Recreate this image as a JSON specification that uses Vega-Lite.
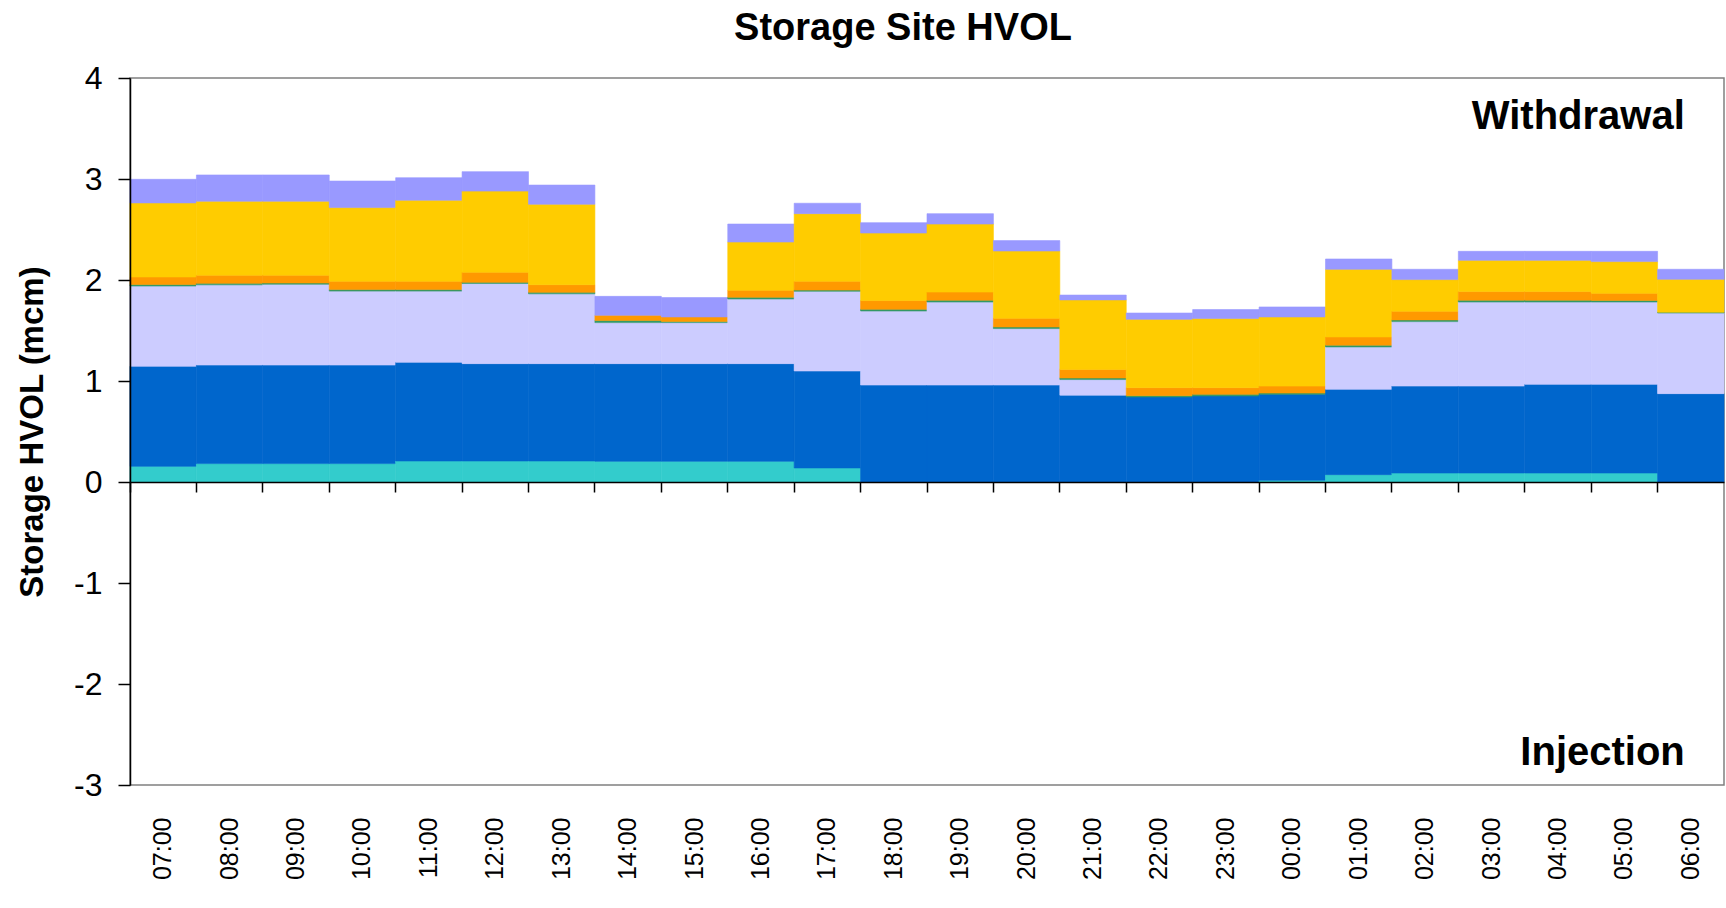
{
  "$schema": "https://vega.github.io/schema/vega-lite/v6.json",
  "width": 1594,
  "height": 707,
  "autosize": {"type": "none"},
  "padding": {"left": 130, "top": 78, "right": 2, "bottom": 123},
  "background": "white",
  "title": {
    "text": "Storage Site HVOL",
    "font": "Liberation Sans",
    "fontSize": 38,
    "fontWeight": "bold",
    "color": "black",
    "anchor": "middle",
    "baseline": "alphabetic",
    "dx": -24,
    "dy": 16,
    "offset": 0
  },
  "config": {
    "view": {"stroke": "#808080", "strokeWidth": 1.5},
    "font": "Liberation Sans"
  },
  "datasets": {
    "hvol": [
      {"hour": "07:00", "series": "Series 1", "value": 0.155},
      {"hour": "07:00", "series": "Series 2", "value": 0.991},
      {"hour": "07:00", "series": "Series 3", "value": 0.794},
      {"hour": "07:00", "series": "Series 4", "value": 0.015},
      {"hour": "07:00", "series": "Series 5", "value": 0.075},
      {"hour": "07:00", "series": "Series 6", "value": 0.733},
      {"hour": "07:00", "series": "Series 7", "value": 0.234},
      {"hour": "08:00", "series": "Series 1", "value": 0.182},
      {"hour": "08:00", "series": "Series 2", "value": 0.976},
      {"hour": "08:00", "series": "Series 3", "value": 0.794},
      {"hour": "08:00", "series": "Series 4", "value": 0.015},
      {"hour": "08:00", "series": "Series 5", "value": 0.080},
      {"hour": "08:00", "series": "Series 6", "value": 0.733},
      {"hour": "08:00", "series": "Series 7", "value": 0.260},
      {"hour": "09:00", "series": "Series 1", "value": 0.182},
      {"hour": "09:00", "series": "Series 2", "value": 0.976},
      {"hour": "09:00", "series": "Series 3", "value": 0.800},
      {"hour": "09:00", "series": "Series 4", "value": 0.012},
      {"hour": "09:00", "series": "Series 5", "value": 0.077},
      {"hour": "09:00", "series": "Series 6", "value": 0.733},
      {"hour": "09:00", "series": "Series 7", "value": 0.260},
      {"hour": "10:00", "series": "Series 1", "value": 0.182},
      {"hour": "10:00", "series": "Series 2", "value": 0.976},
      {"hour": "10:00", "series": "Series 3", "value": 0.732},
      {"hour": "10:00", "series": "Series 4", "value": 0.015},
      {"hour": "10:00", "series": "Series 5", "value": 0.082},
      {"hour": "10:00", "series": "Series 6", "value": 0.730},
      {"hour": "10:00", "series": "Series 7", "value": 0.263},
      {"hour": "11:00", "series": "Series 1", "value": 0.208},
      {"hour": "11:00", "series": "Series 2", "value": 0.977},
      {"hour": "11:00", "series": "Series 3", "value": 0.705},
      {"hour": "11:00", "series": "Series 4", "value": 0.015},
      {"hour": "11:00", "series": "Series 5", "value": 0.082},
      {"hour": "11:00", "series": "Series 6", "value": 0.803},
      {"hour": "11:00", "series": "Series 7", "value": 0.223},
      {"hour": "12:00", "series": "Series 1", "value": 0.208},
      {"hour": "12:00", "series": "Series 2", "value": 0.964},
      {"hour": "12:00", "series": "Series 3", "value": 0.793},
      {"hour": "12:00", "series": "Series 4", "value": 0.012},
      {"hour": "12:00", "series": "Series 5", "value": 0.099},
      {"hour": "12:00", "series": "Series 6", "value": 0.804},
      {"hour": "12:00", "series": "Series 7", "value": 0.193},
      {"hour": "13:00", "series": "Series 1", "value": 0.208},
      {"hour": "13:00", "series": "Series 2", "value": 0.964},
      {"hour": "13:00", "series": "Series 3", "value": 0.691},
      {"hour": "13:00", "series": "Series 4", "value": 0.015},
      {"hour": "13:00", "series": "Series 5", "value": 0.076},
      {"hour": "13:00", "series": "Series 6", "value": 0.796},
      {"hour": "13:00", "series": "Series 7", "value": 0.190},
      {"hour": "14:00", "series": "Series 1", "value": 0.205},
      {"hour": "14:00", "series": "Series 2", "value": 0.967},
      {"hour": "14:00", "series": "Series 3", "value": 0.406},
      {"hour": "14:00", "series": "Series 4", "value": 0.022},
      {"hour": "14:00", "series": "Series 5", "value": 0.050},
      {"hour": "14:00", "series": "Series 6", "value": 0},
      {"hour": "14:00", "series": "Series 7", "value": 0.188},
      {"hour": "15:00", "series": "Series 1", "value": 0.205},
      {"hour": "15:00", "series": "Series 2", "value": 0.967},
      {"hour": "15:00", "series": "Series 3", "value": 0.406},
      {"hour": "15:00", "series": "Series 4", "value": 0.012},
      {"hour": "15:00", "series": "Series 5", "value": 0.044},
      {"hour": "15:00", "series": "Series 6", "value": 0},
      {"hour": "15:00", "series": "Series 7", "value": 0.192},
      {"hour": "16:00", "series": "Series 1", "value": 0.205},
      {"hour": "16:00", "series": "Series 2", "value": 0.967},
      {"hour": "16:00", "series": "Series 3", "value": 0.640},
      {"hour": "16:00", "series": "Series 4", "value": 0.017},
      {"hour": "16:00", "series": "Series 5", "value": 0.069},
      {"hour": "16:00", "series": "Series 6", "value": 0.478},
      {"hour": "16:00", "series": "Series 7", "value": 0.178},
      {"hour": "17:00", "series": "Series 1", "value": 0.139},
      {"hour": "17:00", "series": "Series 2", "value": 0.960},
      {"hour": "17:00", "series": "Series 3", "value": 0.789},
      {"hour": "17:00", "series": "Series 4", "value": 0.012},
      {"hour": "17:00", "series": "Series 5", "value": 0.087},
      {"hour": "17:00", "series": "Series 6", "value": 0.670},
      {"hour": "17:00", "series": "Series 7", "value": 0.103},
      {"hour": "18:00", "series": "Series 1", "value": 0},
      {"hour": "18:00", "series": "Series 2", "value": 0.960},
      {"hour": "18:00", "series": "Series 3", "value": 0.733},
      {"hour": "18:00", "series": "Series 4", "value": 0.017},
      {"hour": "18:00", "series": "Series 5", "value": 0.086},
      {"hour": "18:00", "series": "Series 6", "value": 0.669},
      {"hour": "18:00", "series": "Series 7", "value": 0.103},
      {"hour": "19:00", "series": "Series 1", "value": 0},
      {"hour": "19:00", "series": "Series 2", "value": 0.960},
      {"hour": "19:00", "series": "Series 3", "value": 0.822},
      {"hour": "19:00", "series": "Series 4", "value": 0.018},
      {"hour": "19:00", "series": "Series 5", "value": 0.081},
      {"hour": "19:00", "series": "Series 6", "value": 0.673},
      {"hour": "19:00", "series": "Series 7", "value": 0.103},
      {"hour": "20:00", "series": "Series 1", "value": 0},
      {"hour": "20:00", "series": "Series 2", "value": 0.960},
      {"hour": "20:00", "series": "Series 3", "value": 0.559},
      {"hour": "20:00", "series": "Series 4", "value": 0.016},
      {"hour": "20:00", "series": "Series 5", "value": 0.086},
      {"hour": "20:00", "series": "Series 6", "value": 0.666},
      {"hour": "20:00", "series": "Series 7", "value": 0.103},
      {"hour": "21:00", "series": "Series 1", "value": 0},
      {"hour": "21:00", "series": "Series 2", "value": 0.860},
      {"hour": "21:00", "series": "Series 3", "value": 0.154},
      {"hour": "21:00", "series": "Series 4", "value": 0.016},
      {"hour": "21:00", "series": "Series 5", "value": 0.085},
      {"hour": "21:00", "series": "Series 6", "value": 0.688},
      {"hour": "21:00", "series": "Series 7", "value": 0.048},
      {"hour": "22:00", "series": "Series 1", "value": 0},
      {"hour": "22:00", "series": "Series 2", "value": 0.842},
      {"hour": "22:00", "series": "Series 3", "value": 0},
      {"hour": "22:00", "series": "Series 4", "value": 0.013},
      {"hour": "22:00", "series": "Series 5", "value": 0.079},
      {"hour": "22:00", "series": "Series 6", "value": 0.677},
      {"hour": "22:00", "series": "Series 7", "value": 0.062},
      {"hour": "23:00", "series": "Series 1", "value": 0},
      {"hour": "23:00", "series": "Series 2", "value": 0.852},
      {"hour": "23:00", "series": "Series 3", "value": 0},
      {"hour": "23:00", "series": "Series 4", "value": 0.016},
      {"hour": "23:00", "series": "Series 5", "value": 0.066},
      {"hour": "23:00", "series": "Series 6", "value": 0.684},
      {"hour": "23:00", "series": "Series 7", "value": 0.089},
      {"hour": "00:00", "series": "Series 1", "value": 0.017},
      {"hour": "00:00", "series": "Series 2", "value": 0.851},
      {"hour": "00:00", "series": "Series 3", "value": 0},
      {"hour": "00:00", "series": "Series 4", "value": 0.013},
      {"hour": "00:00", "series": "Series 5", "value": 0.069},
      {"hour": "00:00", "series": "Series 6", "value": 0.684},
      {"hour": "00:00", "series": "Series 7", "value": 0.099},
      {"hour": "01:00", "series": "Series 1", "value": 0.073},
      {"hour": "01:00", "series": "Series 2", "value": 0.845},
      {"hour": "01:00", "series": "Series 3", "value": 0.419},
      {"hour": "01:00", "series": "Series 4", "value": 0.018},
      {"hour": "01:00", "series": "Series 5", "value": 0.081},
      {"hour": "01:00", "series": "Series 6", "value": 0.670},
      {"hour": "01:00", "series": "Series 7", "value": 0.102},
      {"hour": "02:00", "series": "Series 1", "value": 0.089},
      {"hour": "02:00", "series": "Series 2", "value": 0.861},
      {"hour": "02:00", "series": "Series 3", "value": 0.638},
      {"hour": "02:00", "series": "Series 4", "value": 0.017},
      {"hour": "02:00", "series": "Series 5", "value": 0.085},
      {"hour": "02:00", "series": "Series 6", "value": 0.314},
      {"hour": "02:00", "series": "Series 7", "value": 0.102},
      {"hour": "03:00", "series": "Series 1", "value": 0.089},
      {"hour": "03:00", "series": "Series 2", "value": 0.861},
      {"hour": "03:00", "series": "Series 3", "value": 0.832},
      {"hour": "03:00", "series": "Series 4", "value": 0.018},
      {"hour": "03:00", "series": "Series 5", "value": 0.085},
      {"hour": "03:00", "series": "Series 6", "value": 0.310},
      {"hour": "03:00", "series": "Series 7", "value": 0.089},
      {"hour": "04:00", "series": "Series 1", "value": 0.089},
      {"hour": "04:00", "series": "Series 2", "value": 0.878},
      {"hour": "04:00", "series": "Series 3", "value": 0.815},
      {"hour": "04:00", "series": "Series 4", "value": 0.018},
      {"hour": "04:00", "series": "Series 5", "value": 0.085},
      {"hour": "04:00", "series": "Series 6", "value": 0.310},
      {"hour": "04:00", "series": "Series 7", "value": 0.089},
      {"hour": "05:00", "series": "Series 1", "value": 0.089},
      {"hour": "05:00", "series": "Series 2", "value": 0.878},
      {"hour": "05:00", "series": "Series 3", "value": 0.815},
      {"hour": "05:00", "series": "Series 4", "value": 0.016},
      {"hour": "05:00", "series": "Series 5", "value": 0.070},
      {"hour": "05:00", "series": "Series 6", "value": 0.314},
      {"hour": "05:00", "series": "Series 7", "value": 0.102},
      {"hour": "06:00", "series": "Series 1", "value": 0},
      {"hour": "06:00", "series": "Series 2", "value": 0.875},
      {"hour": "06:00", "series": "Series 3", "value": 0.798},
      {"hour": "06:00", "series": "Series 4", "value": 0.008},
      {"hour": "06:00", "series": "Series 5", "value": 0},
      {"hour": "06:00", "series": "Series 6", "value": 0.326},
      {"hour": "06:00", "series": "Series 7", "value": 0.099}
    ],
    "notes": [
      {"hour": "06:00", "y": 3.5, "label": "Withdrawal"},
      {"hour": "06:00", "y": -2.8, "label": "Injection"}
    ]
  },
  "layer": [
    {
      "data": {"name": "hvol"},
      "transform": [{"filter": "datum.value > 0"}],
      "mark": {"type": "bar", "strokeWidth": 0.6},
      "encoding": {
        "x": {
          "field": "hour",
          "type": "nominal",
          "scale": {
            "domain": ["07:00","08:00","09:00","10:00","11:00","12:00","13:00","14:00","15:00","16:00","17:00","18:00","19:00","20:00","21:00","22:00","23:00","00:00","01:00","02:00","03:00","04:00","05:00","06:00"],
            "paddingInner": 0,
            "paddingOuter": 0
          },
          "axis": {
            "orient": "bottom",
            "title": null,
            "domain": false,
            "ticks": false,
            "labelAngle": -90,
            "labelFont": "Liberation Sans",
            "labelFontSize": 25,
            "labelColor": "black",
            "labelPadding": 32
          }
        },
        "y": {
          "field": "value",
          "type": "quantitative",
          "stack": "zero",
          "scale": {"domain": [-3, 4], "nice": false, "zero": false},
          "axis": {
            "values": [-3, -2, -1, 0, 1, 2, 3, 4],
            "labelExpr": "'' + datum.value",
            "grid": false,
            "zindex": 1,
            "domainColor": "black",
            "domainWidth": 1.5,
            "tickColor": "black",
            "tickWidth": 1.5,
            "tickSize": 12,
            "labelFont": "Liberation Sans",
            "labelFontSize": 32,
            "labelColor": "black",
            "labelPadding": 16,
            "title": "Storage HVOL (mcm)",
            "titleFont": "Liberation Sans",
            "titleFontSize": 33,
            "titleFontWeight": "bold",
            "titleColor": "black",
            "titlePadding": 24
          }
        },
        "color": {
          "field": "series",
          "type": "nominal",
          "scale": {
            "domain": ["Series 1","Series 2","Series 3","Series 4","Series 5","Series 6","Series 7"],
            "range": ["#33CCCC","#0066CC","#CCCCFF","#339966","#FF9900","#FFCC00","#9999FF"]
          },
          "legend": null
        },
        "stroke": {
          "field": "series",
          "type": "nominal",
          "scale": {
            "domain": ["Series 1","Series 2","Series 3","Series 4","Series 5","Series 6","Series 7"],
            "range": ["#33CCCC","#0066CC","#CCCCFF","#339966","#FF9900","#FFCC00","#9999FF"]
          },
          "legend": null
        },
        "order": {"field": "series", "sort": "ascending"}
      }
    },
    {
      "data": {"name": "notes"},
      "mark": {
        "type": "text",
        "font": "Liberation Sans",
        "fontSize": 40,
        "fontWeight": "bold",
        "color": "black",
        "align": "right",
        "baseline": "alphabetic",
        "dx": -6
      },
      "encoding": {
        "x": {
          "field": "hour",
          "type": "nominal",
          "axis": {
            "orient": "bottom",
            "offset": -303,
            "title": null,
            "labels": false,
            "ticks": true,
            "bandPosition": 0,
            "tickSize": 10,
            "tickColor": "black",
            "tickWidth": 1.5,
            "domain": true,
            "domainColor": "black",
            "domainWidth": 1.5,
            "zindex": 1
          }
        },
        "y": {"field": "y", "type": "quantitative", "axis": null},
        "text": {"field": "label"}
      }
    }
  ],
  "resolve": {"axis": {"x": "independent", "y": "independent"}}
}
